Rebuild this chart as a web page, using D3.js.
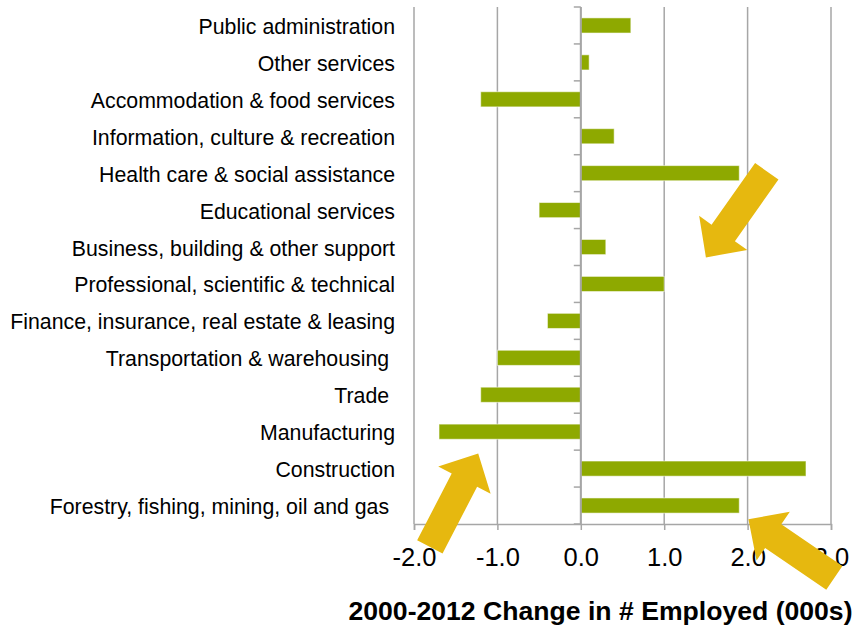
<!DOCTYPE html>
<html>
<head>
<meta charset="utf-8">
<script src="https://cdn.jsdelivr.net/npm/d3@7"></script>
<style>
  html, body { margin: 0; padding: 0; background: #ffffff; }
  svg { display: block; font-family: "Liberation Sans", Arial, sans-serif; }
  .cat-label { white-space: pre; }
</style>
</head>
<body>
<svg id="chart" width="854" height="627"></svg>
<script>
// Industries, top to bottom
const categories = [
  "Public administration",
  "Other services",
  "Accommodation & food services",
  "Information, culture & recreation",
  "Health care & social assistance",
  "Educational services",
  "Business, building & other support",
  "Professional, scientific & technical",
  "Finance, insurance, real estate & leasing",
  "Transportation & warehousing ",
  "Trade ",
  "Manufacturing",
  "Construction",
  "Forestry, fishing, mining, oil and gas "
];

// Change in employment 2000-2012, thousands
const changes = [0.6, 0.1, -1.2, 0.4, 1.9, -0.5, 0.3, 1.0, -0.4, -1.0, -1.2, -1.7, 2.7, 1.9];

const xTicks = [-2, -1, 0, 1, 2, 3];
const xDomain = [-2, 3];
const axisTitle = "2000-2012 Change in # Employed (000s)";

// Callout arrows: tip and tail given as [value, row position]
const arrowTips  = [[1.50, 6.78], [-1.23, 12.09], [2.01, 13.87]];
const arrowTails = [[2.23, 4.45], [-1.81, 14.62], [3.04, 15.46]];

const svg = d3.select("#chart");
const plot = { left: 414, right: 831, top: 7, bottom: 524 };

const x = d3.scaleLinear().domain(xDomain).range([plot.left, plot.right]);
const y = d3.scaleBand()
  .domain(categories)
  .range([plot.top, plot.bottom])
  .paddingInner(0.59)
  .paddingOuter(0.295);
const yRow = d3.scaleLinear().domain([0, categories.length]).range([plot.top, plot.bottom]);

const gridColor = "#a6a6a6";
const barColor = "#8ea900";
const arrowColor = "#e6b80f";

// vertical gridlines
svg.append("g")
  .selectAll("line")
  .data(xTicks)
  .join("line")
  .attr("x1", d => x(d)).attr("x2", d => x(d))
  .attr("y1", plot.top).attr("y2", plot.bottom)
  .attr("stroke", gridColor)
  .attr("stroke-width", 1.5);

// bottom axis
const fmt = d3.formatLocale({ decimal: ".", thousands: ",", grouping: [3], currency: ["", ""], minus: "-" }).format(".1f");
const xAxis = svg.append("g")
  .attr("transform", `translate(0,${plot.bottom})`)
  .call(d3.axisBottom(x).tickValues(xTicks).tickFormat(fmt).tickSize(6).tickPadding(8));
xAxis.select(".domain").attr("stroke", gridColor).attr("stroke-width", 1.5);
xAxis.selectAll(".tick line").attr("stroke", gridColor).attr("stroke-width", 1.5);
xAxis.selectAll(".tick text")
  .attr("fill", "#000")
  .attr("font-size", 25.5)
  .attr("font-family", "Liberation Sans, Arial, sans-serif")
  .attr("dy", null)
  .attr("y", 42);

// bars
svg.append("g")
  .selectAll("rect")
  .data(categories.map((c, i) => ({ c, v: changes[i] })))
  .join("rect")
  .attr("x", d => x(Math.min(0, d.v)))
  .attr("y", d => y(d.c))
  .attr("width", d => Math.abs(x(d.v) - x(0)))
  .attr("height", y.bandwidth())
  .attr("fill", barColor)
  .attr("stroke", "#ffffff")
  .attr("stroke-opacity", 0.55)
  .attr("stroke-width", 1);

// zero axis with category ticks at band boundaries
const zeroAxis = svg.append("g")
  .attr("transform", `translate(${x(0)},0)`);
zeroAxis.append("line")
  .attr("y1", plot.top).attr("y2", plot.bottom)
  .attr("stroke", gridColor).attr("stroke-width", 2);
zeroAxis.selectAll(".cat-tick")
  .data(d3.range(categories.length + 1))
  .join("line")
  .attr("class", "cat-tick")
  .attr("x1", -7).attr("x2", 0)
  .attr("y1", d => yRow(d)).attr("y2", d => yRow(d))
  .attr("stroke", gridColor).attr("stroke-width", 1.5);

// category labels
svg.append("g")
  .selectAll("text")
  .data(categories)
  .join("text")
  .attr("class", "cat-label")
  .attr("x", 395)
  .attr("y", d => y(d) + y.bandwidth() / 2)
  .attr("dy", "0.4em")
  .attr("text-anchor", "end")
  .attr("font-size", 21.3)
  .attr("fill", "#000")
  .text(d => d);

// axis title
svg.append("text")
  .attr("x", 600.5)
  .attr("y", 620)
  .attr("text-anchor", "middle")
  .attr("font-size", 26.6)
  .attr("font-weight", "bold")
  .attr("fill", "#000")
  .text(axisTitle);

// block arrows
function arrowPoints(tip, tail, shaftHalf, headHalf, headLen) {
  const dx = tip[0] - tail[0], dy = tip[1] - tail[1];
  const len = Math.hypot(dx, dy);
  const ux = dx / len, uy = dy / len;      // along the arrow
  const px = -uy, py = ux;                 // perpendicular
  const bx = tip[0] - ux * headLen, by = tip[1] - uy * headLen;
  return [
    [tail[0] + px * shaftHalf, tail[1] + py * shaftHalf],
    [bx + px * shaftHalf, by + py * shaftHalf],
    [bx + px * headHalf, by + py * headHalf],
    tip,
    [bx - px * headHalf, by - py * headHalf],
    [bx - px * shaftHalf, by - py * shaftHalf],
    [tail[0] - px * shaftHalf, tail[1] - py * shaftHalf]
  ];
}

svg.append("g")
  .selectAll("polygon")
  .data(arrowTips.map((t, i) => ({ tip: t, tail: arrowTails[i] })))
  .join("polygon")
  .attr("points", d => {
    const tip = [x(d.tip[0]), yRow(d.tip[1])];
    const tail = [x(d.tail[0]), yRow(d.tail[1])];
    return arrowPoints(tip, tail, 14.3, 29.5, 30).map(p => p.join(",")).join(" ");
  })
  .attr("fill", arrowColor);
</script>
</body>
</html>
